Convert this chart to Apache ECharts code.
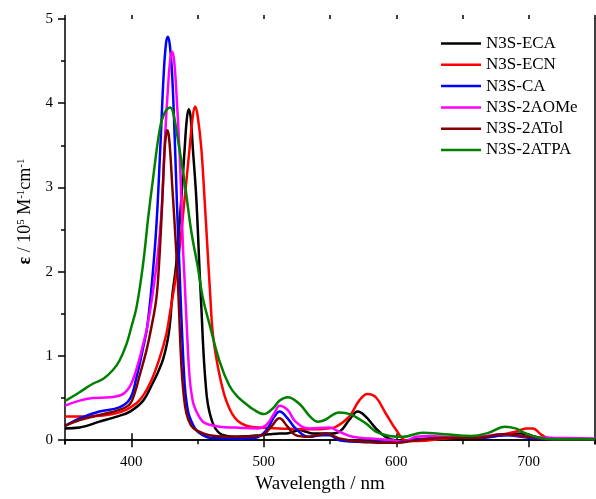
<!DOCTYPE html>
<html>
<head>
<meta charset="utf-8">
<script src="https://cdn.jsdelivr.net/npm/echarts@6/dist/echarts.min.js"></script>
<style>
  html, body { margin: 0; padding: 0; background: #fff; }
  #chart { width: 596px; height: 499px; }
</style>
</head>
<body>
<div id="chart"></div>
<script>
// Absorption spectra: [wavelength (nm), epsilon (10^5 M^-1 cm^-1)]
const seriesNames = ['N3S-ECA', 'N3S-ECN', 'N3S-CA', 'N3S-2AOMe', 'N3S-2ATol', 'N3S-2ATPA'];

const eca = [[350,0.14],[361,0.15],[376,0.22],[389,0.28],[399,0.34],[409,0.47],[416,0.67],[420,0.8],[424,0.96],[427,1.15],[429,1.35],[431,1.72],[434,2.1],[437.8,2.87],[440.3,3.46],[442,3.82],[443.4,3.93],[444.8,3.84],[446.5,3.46],[449.1,2.87],[451.6,2.0],[453,1.55],[454.5,1.05],[456,0.7],[457.8,0.43],[461.6,0.2],[466,0.09],[472,0.05],[479,0.04],[490,0.05],[497,0.06],[504,0.07],[512,0.08],[517,0.08],[522,0.1],[527,0.12],[532,0.1],[537,0.08],[549.5,0.08],[557,0.1],[564.5,0.24],[571,0.34],[577,0.28],[584.6,0.14],[592,0.04],[600,0.0],[615,0.0],[635,0.02],[660,0.03],[680,0.06],[695,0.08],[705,0.04],[715,0.01],[750,0.01]];

const ecn = [[350,0.28],[371,0.285],[386,0.31],[396,0.36],[406,0.47],[414,0.67],[421.5,0.98],[426.5,1.26],[429,1.49],[432.8,1.85],[436.5,2.28],[440.3,2.87],[444,3.46],[446.5,3.85],[448.3,3.96],[450.2,3.84],[452.9,3.46],[455.3,2.87],[457.8,2.2],[459.5,1.75],[461.6,1.26],[465.4,0.87],[470,0.55],[474,0.38],[478,0.27],[483,0.2],[490,0.16],[499,0.15],[512,0.14],[537,0.13],[548,0.14],[554.5,0.16],[564.5,0.28],[572,0.47],[578.3,0.55],[584.6,0.51],[592,0.32],[600,0.12],[607,0.0],[617,-0.01],[637,0.02],[662,0.04],[677,0.06],[690,0.1],[698,0.14],[703,0.14],[710,0.06],[718,0.01],[750,0.01]];

const ca = [[350,0.17],[361,0.26],[376,0.34],[391,0.39],[399,0.49],[404,0.75],[409,1.1],[412,1.34],[415.5,1.85],[419,2.55],[422,3.5],[424.5,4.35],[426.3,4.72],[427.7,4.79],[429.2,4.68],[431,4.3],[433,3.5],[434.5,2.8],[436.5,2.0],[438,1.4],[440.3,0.67],[442,0.42],[444,0.28],[449,0.12],[454,0.06],[459,0.03],[479,0.02],[494,0.03],[502,0.12],[508,0.28],[512,0.34],[518,0.26],[524,0.14],[534,0.04],[544,0.06],[549.5,0.06],[557,0.0],[575,-0.02],[600,-0.02],[615,0.01],[640,0.03],[665,0.03],[682,0.06],[700,0.03],[715,0.01],[750,0.01]];

const aome = [[350,0.41],[361,0.47],[371,0.5],[384,0.51],[394,0.55],[400,0.67],[405,0.9],[409,1.14],[412,1.34],[416,1.72],[420,2.2],[423,2.75],[425.5,3.6],[428,4.25],[429.7,4.55],[431,4.61],[432.4,4.5],[434,4.15],[436.5,3.4],[437.8,2.85],[439,2.3],[440.3,1.89],[441.6,1.45],[444,0.75],[446,0.5],[447.8,0.39],[454,0.22],[460,0.18],[466.6,0.16],[479,0.15],[495.5,0.14],[502,0.18],[508,0.32],[512,0.41],[518,0.36],[524,0.22],[534,0.14],[549.5,0.15],[557,0.1],[567,0.04],[580,0.02],[597,0.0],[605,-0.02],[615,0.04],[625,0.05],[640,0.04],[662,0.04],[680,0.07],[700,0.04],[718,0.03],[750,0.02]];

const atol = [[350,0.17],[361,0.24],[376,0.3],[391,0.36],[399,0.43],[403,0.58],[406,0.75],[411.4,1.06],[415.2,1.34],[419,1.69],[421,2.1],[422.7,2.6],[425.2,3.45],[426.3,3.63],[427.2,3.68],[428.3,3.62],[429.5,3.4],[431,3.0],[433,2.5],[435.2,1.87],[437.8,0.9],[439.5,0.55],[441.6,0.32],[445,0.18],[449,0.12],[459,0.06],[479,0.04],[494,0.05],[499,0.06],[505.6,0.16],[511.8,0.26],[518,0.16],[524,0.06],[534,0.04],[547,0.08],[557,0.02],[575,-0.02],[600,-0.03],[615,0.0],[637,0.03],[662,0.03],[680,0.07],[700,0.04],[715,0.01],[750,0.01]];

const atpa = [[350,0.465],[361,0.57],[371,0.67],[379,0.73],[386,0.83],[391,0.94],[396.4,1.14],[400,1.34],[404,1.58],[409,2.1],[412.7,2.63],[416.4,3.1],[421.5,3.69],[425,3.88],[429.5,3.95],[432,3.86],[435.2,3.57],[440.3,3.06],[445.3,2.48],[450.3,2.05],[454,1.69],[459,1.38],[466.6,0.94],[474,0.65],[480,0.52],[486.7,0.43],[491.7,0.37],[500,0.31],[507,0.38],[512,0.47],[518,0.51],[527,0.43],[535,0.28],[541,0.22],[546,0.24],[557,0.33],[565,0.31],[577,0.2],[585,0.1],[595,0.05],[605,0.04],[620,0.09],[637,0.07],[657,0.05],[670,0.09],[682,0.16],[690,0.14],[698,0.08],[708,0.03],[720,0.01],[750,0.01]];

const seriesData = [eca, ecn, ca, aome, atol, atpa];
const seriesColors = ['#000000', '#ff0000', '#0000ff', '#ff00ff', '#800000', '#008000'];

// Axis ticks and labels
const xMajorTicks = [400, 500, 600, 700];
const yMajorTicks = [0, 1, 2, 3, 4, 5];
const yMinorTicks = [0.5, 1.5, 2.5, 3.5, 4.5];

const FONT = "'Liberation Serif', 'Times New Roman', serif";
const AXIS_LINE = { show: true, lineStyle: { color: '#000', width: 1.5 } };
const X_RANGE = { type: 'value', min: 350, max: 750 };
const Y_RANGE = { type: 'value', min: -0.045, max: 5 };

const chart = echarts.init(document.getElementById('chart'), null, { renderer: 'canvas' });

chart.setOption({
  animation: false,
  backgroundColor: '#fff',
  grid: { left: 65, right: 1, top: 19, bottom: 52, containLabel: false },
  legend: {
    orient: 'vertical',
    left: 441,
    top: 35,
    padding: 0,
    icon: 'rect',
    itemWidth: 40,
    itemHeight: 2.5,
    itemGap: 4.3,
    textStyle: { fontFamily: FONT, fontSize: 17, color: '#000', lineHeight: 17 },
    data: seriesNames
  },
  xAxis: [
    Object.assign({}, X_RANGE, {
      position: 'bottom',
      axisLine: AXIS_LINE,
      axisTick: { show: true, customValues: xMajorTicks, length: 7, lineStyle: { color: '#000', width: 1.5 } },
      axisLabel: { customValues: xMajorTicks, fontFamily: FONT, fontSize: 15, color: '#000', margin: 11 },
      splitLine: { show: false },
      name: 'Wavelength / nm',
      nameLocation: 'middle',
      nameGap: 31,
      nameTextStyle: { fontFamily: FONT, fontSize: 19, color: '#000', padding: [0, 20, 0, 0] }
    }),
    Object.assign({}, X_RANGE, {
      position: 'bottom',
      interval: 50,
      axisLine: { show: false },
      axisTick: { show: true, length: 4, lineStyle: { color: '#000', width: 1.5 } },
      axisLabel: { show: false },
      splitLine: { show: false }
    }),
    Object.assign({}, X_RANGE, {
      position: 'top',
      axisLine: AXIS_LINE,
      axisTick: { show: true, customValues: xMajorTicks, length: 7, lineStyle: { color: '#000', width: 1.5 } },
      axisLabel: { show: false },
      splitLine: { show: false }
    }),
    Object.assign({}, X_RANGE, {
      position: 'top',
      interval: 50,
      axisLine: { show: false },
      axisTick: { show: true, length: 4, lineStyle: { color: '#000', width: 1.5 } },
      axisLabel: { show: false },
      splitLine: { show: false }
    })
  ],
  yAxis: [
    Object.assign({}, Y_RANGE, {
      position: 'left',
      axisLine: AXIS_LINE,
      axisTick: { show: true, customValues: yMajorTicks, length: 7, lineStyle: { color: '#000', width: 1.5 } },
      axisLabel: { customValues: yMajorTicks, fontFamily: FONT, fontSize: 15, color: '#000', margin: 12 },
      splitLine: { show: false },
      name: '{b|ε} / 10{sup|5} M{sup|-1}cm{sup|-1}',
      nameLocation: 'middle',
      nameRotate: 90,
      nameGap: 31,
      nameTextStyle: {
        fontFamily: FONT, fontSize: 18, color: '#000',
        padding: [0, 0, 0, 40],
        rich: {
          b: { fontFamily: FONT, fontSize: 18, fontWeight: 'bold', color: '#000' },
          sup: { fontFamily: FONT, fontSize: 11, color: '#000', verticalAlign: 'top', lineHeight: 18 }
        }
      }
    }),
    Object.assign({}, Y_RANGE, {
      position: 'left',
      axisLine: { show: false },
      axisTick: { show: true, customValues: yMinorTicks, length: 4, lineStyle: { color: '#000', width: 1.5 } },
      axisLabel: { show: false },
      splitLine: { show: false }
    }),
    Object.assign({}, Y_RANGE, {
      position: 'right',
      axisLine: AXIS_LINE,
      axisTick: { show: false },
      axisLabel: { show: false },
      splitLine: { show: false }
    })
  ],
  series: seriesNames.map((name, i) => ({
    name: name,
    type: 'line',
    xAxisIndex: 0,
    yAxisIndex: 0,
    data: seriesData[i],
    showSymbol: false,
    symbol: 'none',
    smooth: 0.4,
    color: seriesColors[i],
    lineStyle: { color: seriesColors[i], width: 2.5 },
    z: 2 + i
  }))
});
</script>
</body>
</html>
